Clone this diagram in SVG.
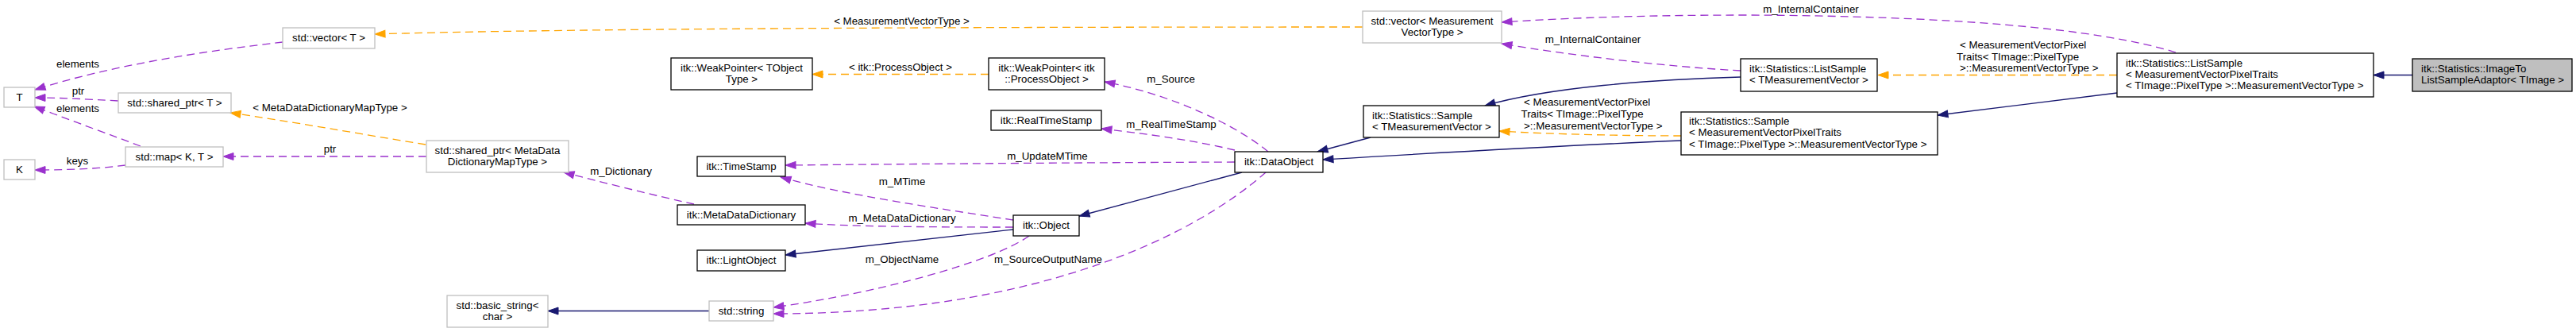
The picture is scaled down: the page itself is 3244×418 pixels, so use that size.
<svg xmlns="http://www.w3.org/2000/svg" width="3244" height="418" viewBox="0 0 3244 418">
<style>
text{font-family:"Liberation Sans",Arial,Helvetica,sans-serif;font-size:13.3px;fill:#000}
.c{text-anchor:middle}
.nb{fill:#fff;stroke:#000;stroke-width:1.3}
.ng{fill:#fff;stroke:#bfbfbf;stroke-width:1.3}
.nf{fill:#bfbfbf;stroke:#000;stroke-width:1.3}
.inh{fill:none;stroke:#191970;stroke-width:1.3}
.use{fill:none;stroke:#9a32cd;stroke-width:1.3;stroke-dasharray:10,6}
.tpl{fill:none;stroke:#ffa500;stroke-width:1.3;stroke-dasharray:10,6}
.inh{marker-end:url(#aB)}
.use{marker-end:url(#aP)}
.tpl{marker-end:url(#aO)}
</style>
<defs>
<marker id="aB" markerUnits="userSpaceOnUse" markerWidth="14" markerHeight="10" refX="13" refY="4.5" orient="auto" overflow="visible"><path d="M0,0 L13,4.5 L0,9 Z" fill="#191970" stroke="#191970" stroke-width="1"/></marker>
<marker id="aP" markerUnits="userSpaceOnUse" markerWidth="14" markerHeight="10" refX="13" refY="4.5" orient="auto" overflow="visible"><path d="M0,0 L13,4.5 L0,9 Z" fill="#9a32cd" stroke="#9a32cd" stroke-width="1"/></marker>
<marker id="aO" markerUnits="userSpaceOnUse" markerWidth="14" markerHeight="10" refX="13" refY="4.5" orient="auto" overflow="visible"><path d="M0,0 L13,4.5 L0,9 Z" fill="#ffa500" stroke="#ffa500" stroke-width="1"/></marker>
</defs>
<rect x="0" y="0" width="3244" height="418" fill="#fff"/>

<g id="edges">
<path class="use" d="M356,53 C260,64 140,82 44,113"/>
<text class="c" x="98" y="85">elements</text>
<path class="use" d="M149,127 C110,125 80,123 44,123"/>
<text class="c" x="98.5" y="119">ptr</text>
<path class="use" d="M177,184 C140,170 90,152 43,134"/>
<text class="c" x="98" y="140.5">elements</text>
<path class="use" d="M158,208 C120,213 80,214 44,214"/>
<text class="c" x="97.5" y="207">keys</text>
<path class="use" d="M537,197 L281,197"/>
<text class="c" x="415.5" y="192">ptr</text>
<path class="tpl" d="M536,182 C450,168 360,152 290,142"/>
<text class="c" x="415.5" y="140">&lt; MetaDataDictionaryMapType &gt;</text>
<path class="tpl" d="M1716,34 C1200,34 700,36 472,43"/>
<text class="c" x="1135.5" y="31">&lt; MeasurementVectorType &gt;</text>
<path class="use" d="M2740,66 C2640,35 2450,20 2200,19 C2050,19 1950,24 1891,28"/>
<text class="c" x="2280.5" y="16">m_InternalContainer</text>
<path class="use" d="M2192,89 C2100,84 1980,70 1891,55"/>
<text class="c" x="2006" y="54">m_InternalContainer</text>
<path class="inh" d="M2192,97 C2080,100 1950,110 1870,133"/>
<path class="tpl" d="M2666,94.5 L2365,94.5"/>
<text x="2468" y="61">&lt; MeasurementVectorPixel</text>
<text x="2464" y="75.5">Traits&lt; TImage::PixelType</text>
<text x="2468" y="90">&gt;::MeasurementVectorType &gt;</text>
<path class="inh" d="M2666,117 L2440,145"/>
<path class="tpl" d="M2117,171 C2050,171 1950,169 1888,165"/>
<text x="1919" y="132.5">&lt; MeasurementVectorPixel</text>
<text x="1915.5" y="147.5">Traits&lt; TImage::PixelType</text>
<text x="1919" y="162.5">&gt;::MeasurementVectorType &gt;</text>
<path class="inh" d="M2117,177 C1950,184 1800,193 1666,201"/>
<path class="inh" d="M1726,173 L1659,191"/>
<path class="inh" d="M3038,94.5 L2989,94.5"/>
<path class="inh" d="M1564,217 L1359,272"/>
<path class="use" d="M1597,191 C1560,160 1480,120 1391,103"/>
<text class="c" x="1474.5" y="104">m_Source</text>
<path class="use" d="M1555,189 C1500,176 1440,168 1387,162"/>
<text class="c" x="1475" y="160.5">m_RealTimeStamp</text>
<path class="use" d="M1555,204 C1300,205 1100,207 989,208"/>
<text class="c" x="1319" y="200.5">m_UpdateMTime</text>
<path class="use" d="M1276,277 C1180,262 1060,245 983,223"/>
<text class="c" x="1136" y="232.5">m_MTime</text>
<path class="use" d="M1276,286 C1150,286 1070,285 1014,281"/>
<text class="c" x="1136" y="278.5">m_MetaDataDictionary</text>
<path class="inh" d="M1276,289 L989,321"/>
<path class="use" d="M1296,297 C1250,330 1100,370 974,387"/>
<text class="c" x="1136" y="330.5">m_ObjectName</text>
<path class="use" d="M1594,217 C1500,300 1300,395 974,395"/>
<text class="c" x="1320" y="330.5">m_SourceOutputName</text>
<path class="use" d="M874,257 C820,245 760,230 710,217"/>
<text class="c" x="782" y="220">m_Dictionary</text>
<path class="inh" d="M893,391.5 L690,391.5"/>
<path class="tpl" d="M1245,93.5 L1023,93.5"/>
<text class="c" x="1134" y="88.5">&lt; itk::ProcessObject &gt;</text>
</g>

<g id="n_T"><rect class="ng" x="5" y="110" width="39" height="25"/><text class="c" x="24.5" y="127">T</text></g>
<g id="n_K"><rect class="ng" x="5" y="201" width="39" height="25"/><text class="c" x="24.5" y="218">K</text></g>
<g id="n_vecT"><rect class="ng" x="356" y="35" width="116" height="26"/><text class="c" x="414" y="52">std::vector&lt; T &gt;</text></g>
<g id="n_shT"><rect class="ng" x="149" y="117" width="142" height="25"/><text class="c" x="220" y="134">std::shared_ptr&lt; T &gt;</text></g>
<g id="n_map"><rect class="ng" x="158" y="185" width="123" height="25"/><text class="c" x="219.5" y="202">std::map&lt; K, T &gt;</text></g>
<g id="n_shMD"><rect class="ng" x="537" y="177" width="179" height="40"/><text class="c" x="626.5" y="194">std::shared_ptr&lt; MetaData</text><text class="c" x="626.5" y="208">DictionaryMapType &gt;</text></g>
<g id="n_wpTO"><rect class="nb" x="845" y="73" width="178" height="40"/><text class="c" x="934" y="90">itk::WeakPointer&lt; TObject</text><text class="c" x="934" y="104">Type &gt;</text></g>
<g id="n_ts"><rect class="nb" x="878" y="197" width="111" height="25"/><text class="c" x="933.5" y="213.5">itk::TimeStamp</text></g>
<g id="n_mdd"><rect class="nb" x="853" y="258" width="161" height="25"/><text class="c" x="933.5" y="274.5">itk::MetaDataDictionary</text></g>
<g id="n_lo"><rect class="nb" x="878" y="315" width="111" height="26"/><text class="c" x="933.5" y="332">itk::LightObject</text></g>
<g id="n_bs"><rect class="ng" x="563" y="372" width="127" height="40"/><text class="c" x="626.5" y="389">std::basic_string&lt;</text><text class="c" x="626.5" y="403">char &gt;</text></g>
<g id="n_str"><rect class="ng" x="893" y="379" width="81" height="25"/><text class="c" x="933.5" y="395.5">std::string</text></g>
<g id="n_wpPO"><rect class="nb" x="1245" y="73" width="146" height="40"/><text class="c" x="1318" y="90">itk::WeakPointer&lt; itk</text><text class="c" x="1318" y="104">::ProcessObject &gt;</text></g>
<g id="n_rts"><rect class="nb" x="1248" y="139" width="139" height="25"/><text class="c" x="1317.5" y="155.5">itk::RealTimeStamp</text></g>
<g id="n_obj"><rect class="nb" x="1276" y="271" width="83" height="26"/><text class="c" x="1317.5" y="287.5">itk::Object</text></g>
<g id="n_do"><rect class="nb" x="1555" y="191" width="111" height="26"/><text class="c" x="1610.5" y="207.5">itk::DataObject</text></g>
<g id="n_vecM"><rect class="ng" x="1716" y="14" width="175" height="40"/><text class="c" x="1803.5" y="31">std::vector&lt; Measurement</text><text class="c" x="1803.5" y="45">VectorType &gt;</text></g>
<g id="n_sTMV"><rect class="nb" x="1717" y="133" width="171" height="40"/><text x="1728" y="150">itk::Statistics::Sample</text><text x="1728" y="164">&lt; TMeasurementVector &gt;</text></g>
<g id="n_lsTMV"><rect class="nb" x="2192" y="74" width="172" height="41"/><text x="2203" y="91">itk::Statistics::ListSample</text><text x="2203" y="105">&lt; TMeasurementVector &gt;</text></g>
<g id="n_sPT"><rect class="nb" x="2117" y="141" width="323" height="54"/><text x="2127" y="157">itk::Statistics::Sample</text><text x="2127" y="171">&lt; MeasurementVectorPixelTraits</text><text x="2127" y="185.5">&lt; TImage::PixelType &gt;::MeasurementVectorType &gt;</text></g>
<g id="n_lsPT"><rect class="nb" x="2666" y="67" width="323" height="55"/><text x="2677" y="83.5">itk::Statistics::ListSample</text><text x="2677" y="97.5">&lt; MeasurementVectorPixelTraits</text><text x="2677" y="112">&lt; TImage::PixelType &gt;::MeasurementVectorType &gt;</text></g>
<g id="n_img"><rect class="nf" x="3038" y="74" width="201" height="41"/><text x="3049" y="91">itk::Statistics::ImageTo</text><text x="3049" y="105">ListSampleAdaptor&lt; TImage &gt;</text></g>
</svg>
